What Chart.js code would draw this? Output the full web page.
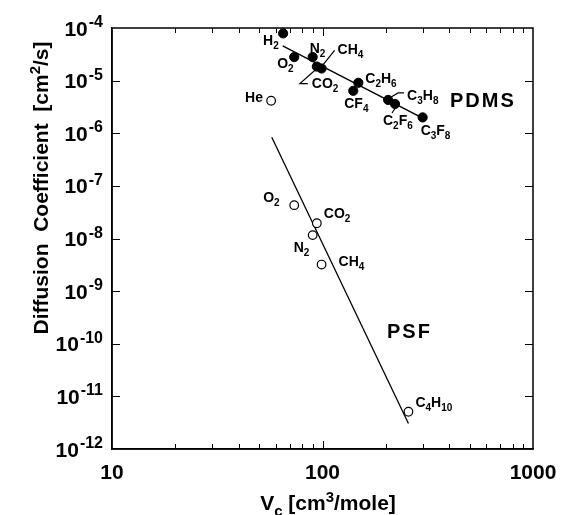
<!DOCTYPE html>
<html><head><meta charset="utf-8">
<script src="https://cdn.jsdelivr.net/npm/chart.js@4.4.0/dist/chart.umd.min.js"></script>
<style>html,body{margin:0;padding:0;background:#fff;}canvas{display:block;}</style>
</head><body>
<canvas id="c" width="562" height="515"></canvas>
<script>
// ---- data ----
const xTickValues = [10, 100, 1000];
const yTickExponents = [-4, -5, -6, -7, -8, -9, -10, -11, -12];

const pdmsGases = ['H2','O2','N2','CO2','CH4','C2H6','CF4','C3H8','C2F6','C3F8'];
const pdmsVc = [65, 73.4, 89.8, 94, 99, 148, 140, 205, 221, 299];
const pdmsD  = [7.9e-5, 2.8e-5, 2.8e-5, 1.85e-5, 1.7e-5, 9.1e-6, 6.4e-6, 4.3e-6, 3.6e-6, 2.0e-6];

const heGases = ['He'];
const heVc = [57];
const heD  = [4.15e-6];

const psfGases = ['O2','CO2','N2','CH4','C4H10'];
const psfVc = [73.4, 94, 89.8, 99, 256];
const psfD  = [4.3e-8, 1.95e-8, 1.16e-8, 3.2e-9, 5.1e-12];

const pdmsFitVc = [64.7, 299];
const pdmsFitD  = [4.55e-5, 1.94e-6];
const psfFitVc = [57.4, 256];
const psfFitD  = [8.4e-7, 3.05e-12];

const polymerNames = ['PDMS', 'PSF'];

// ---- label layout (pixel offsets from each point) ----
const pdmsLabelLayout = [
  {dx:-20, dy:12},
  {dx:-17, dy:11},
  {dx:-3, dy:-4},
  {dx:-5, dy:21, leader:[[-1,3],[-17,17],[-9,17]]},
  {dx:16, dy:-14, leader:[[1,-3],[13,-18]]},
  {dx:7, dy:0},
  {dx:-9, dy:17},
  {dx:19, dy:0, leader:[[3,-3],[10,-7],[16,-7]]},
  {dx:-12, dy:21, leader:[[1,3],[-3,9]]},
  {dx:-2, dy:18}
];
const heLabelLayout = [{dx:-26, dy:1}];
const psfLabelLayout = [
  {dx:-31, dy:-3},
  {dx:7, dy:-5},
  {dx:-19, dy:17},
  {dx:17, dy:1},
  {dx:7, dy:-5}
];
const polymerLabelPos = [{x:450, y:107}, {x:387, y:338}];

const FONT = '"Liberation Sans", Arial, Helvetica, sans-serif';
const toPts = (xs, ys) => xs.map((x, i) => ({x, y: ys[i]}));

function drawRuns(ctx, runs, x, y) {
  let cx = x;
  for (const r of runs) {
    ctx.font = 'bold ' + r.size + 'px ' + FONT;
    ctx.fillText(r.t, cx, y + (r.dy || 0));
    cx += ctx.measureText(r.t).width;
  }
  return cx - x;
}
function runsWidth(ctx, runs) {
  let w = 0;
  for (const r of runs) { ctx.font = 'bold ' + r.size + 'px ' + FONT; w += ctx.measureText(r.t).width; }
  return w;
}
function formulaRuns(s) {
  const runs = [];
  const re = /(\d+|[^\d]+)/g; let m;
  while ((m = re.exec(s))) {
    if (/^\d+$/.test(m[1])) runs.push({t: m[1], size: 10, dy: 4});
    else runs.push({t: m[1], size: 14, dy: 0});
  }
  return runs;
}

const decor = {
  id: 'decor',
  beforeDraw(chart) {
    const ctx = chart.ctx;
    ctx.save(); ctx.fillStyle = '#fff'; ctx.fillRect(0, 0, chart.width, chart.height); ctx.restore();
  },
  afterDatasetsDraw(chart) {
    const ctx = chart.ctx, xa = chart.scales.x, ya = chart.scales.y, ca = chart.chartArea;
    ctx.save();
    ctx.strokeStyle = '#000'; ctx.fillStyle = '#000';
    // frame
    ctx.lineWidth = 1.5;
    ctx.strokeRect(ca.left, ca.top, ca.right - ca.left, ca.bottom - ca.top);
    // x ticks (top and bottom, inward)
    ctx.lineWidth = 1;
    ctx.beginPath();
    for (let dec = 10; dec < 1000; dec *= 10) {
      for (let m = 1; m <= 9; m++) {
        const v = dec * m;
        if (v <= 10 || v >= 1000) continue;
        const px = Math.round(xa.getPixelForValue(v)) + 0.5;
        const len = m === 1 ? 8 : 5;
        ctx.moveTo(px, ca.bottom); ctx.lineTo(px, ca.bottom - len);
        ctx.moveTo(px, ca.top); ctx.lineTo(px, ca.top + len);
      }
    }
    // y ticks left & right
    for (const e of yTickExponents) {
      const py = Math.round(ya.getPixelForValue(Math.pow(10, e))) + 0.5;
      if (py <= ca.top + 1 || py >= ca.bottom - 1) continue;
      ctx.moveTo(ca.left, py); ctx.lineTo(ca.left + 8, py);
      ctx.moveTo(ca.right, py); ctx.lineTo(ca.right - 8, py);
    }
    ctx.stroke();

    // y tick labels 10^e
    ctx.textAlign = 'left'; ctx.textBaseline = 'alphabetic';
    for (const e of yTickExponents) {
      const py = ya.getPixelForValue(Math.pow(10, e));
      const expRun = {t: String(e), size: 16};
      const baseRun = {t: '10', size: 21};
      const w = runsWidth(ctx, [baseRun, expRun]) + 1;
      const x0 = ca.left - 9 - w;
      ctx.font = 'bold 21px ' + FONT; ctx.fillText('10', x0, py + 7.5);
      const bw = ctx.measureText('10').width + 1;
      ctx.font = 'bold 16px ' + FONT; ctx.fillText(String(e), x0 + bw, py - 1);
    }

    // y axis title
    ctx.save();
    ctx.translate(48, 188);
    ctx.rotate(-Math.PI / 2);
    const yt = [{t:'Diffusion  Coefficient  [cm', size:21}, {t:'2', size:15, dy:-8}, {t:'/s]', size:21}];
    drawRuns(ctx, yt, -runsWidth(ctx, yt) / 2, 0);
    ctx.restore();

    // x axis title
    const xt = [{t:'V', size:21}, {t:'c', size:15, dy:6}, {t:' [cm', size:21}, {t:'3', size:15, dy:-8}, {t:'/mole]', size:21}];
    drawRuns(ctx, xt, 328 - runsWidth(ctx, xt) / 2, 510);

    // leader lines and gas labels
    const groups = [
      [pdmsGases, pdmsVc, pdmsD, pdmsLabelLayout],
      [heGases, heVc, heD, heLabelLayout],
      [psfGases, psfVc, psfD, psfLabelLayout]
    ];
    ctx.lineWidth = 1.2;
    for (const [names, xs, ys, lay] of groups) {
      names.forEach((name, i) => {
        const px = xa.getPixelForValue(xs[i]), py = ya.getPixelForValue(ys[i]);
        const L = lay[i];
        if (L.leader) {
          ctx.beginPath();
          L.leader.forEach(([lx, ly], k) => k ? ctx.lineTo(px + lx, py + ly) : ctx.moveTo(px + lx, py + ly));
          ctx.stroke();
        }
        drawRuns(ctx, formulaRuns(name), px + L.dx, py + L.dy);
      });
    }
    // polymer labels
    ctx.font = 'bold 20px ' + FONT;
    try { ctx.letterSpacing = '2px'; } catch (e) {}
    polymerNames.forEach((n, i) => {
      ctx.fillText(n, polymerLabelPos[i].x, polymerLabelPos[i].y);
    });
    try { ctx.letterSpacing = '0px'; } catch (e) {}
    ctx.restore();
  }
};

new Chart(document.getElementById('c'), {
  type: 'scatter',
  data: {
    datasets: [
      {label: 'PDMS', data: toPts(pdmsVc, pdmsD), pointRadius: 4.6, pointBackgroundColor: '#000', pointBorderColor: '#000', pointBorderWidth: 1},
      {label: 'He (PDMS)', data: toPts(heVc, heD), pointRadius: 4.3, pointBackgroundColor: '#fff', pointBorderColor: '#000', pointBorderWidth: 1.2},
      {label: 'PSF', data: toPts(psfVc, psfD), pointRadius: 4.3, pointBackgroundColor: '#fff', pointBorderColor: '#000', pointBorderWidth: 1.2},
      {label: 'PDMS fit', data: toPts(pdmsFitVc, pdmsFitD), showLine: true, pointRadius: 0, borderColor: '#000', borderWidth: 1.4},
      {label: 'PSF fit', data: toPts(psfFitVc, psfFitD), showLine: true, pointRadius: 0, borderColor: '#000', borderWidth: 1.3}
    ]
  },
  options: {
    responsive: false, animation: false, devicePixelRatio: 1,
    layout: {padding: {top: 28, right: 29, left: 0, bottom: 0}},
    plugins: {legend: {display: false}, tooltip: {enabled: false}},
    scales: {
      x: {
        type: 'logarithmic', min: 10, max: 1000,
        afterBuildTicks: s => { s.ticks = xTickValues.map(v => ({value: v})); },
        afterFit: s => { s.height = 66; s.paddingLeft = 0; s.paddingRight = 0; },
        ticks: {callback: v => String(v), color: '#000', font: {family: FONT, size: 21, weight: 'bold'}, padding: 12, maxRotation: 0, autoSkip: false},
        grid: {display: false, drawTicks: false},
        border: {display: true, color: '#000', width: 1.5}
      },
      y: {
        type: 'logarithmic', min: 1e-12, max: 1e-4,
        afterFit: s => { s.width = 112; s.paddingTop = 0; s.paddingBottom = 0; },
        ticks: {display: false},
        grid: {display: false, drawTicks: false},
        border: {display: true, color: '#000', width: 1.5}
      }
    }
  },
  plugins: [decor]
});
</script>
</body></html>
